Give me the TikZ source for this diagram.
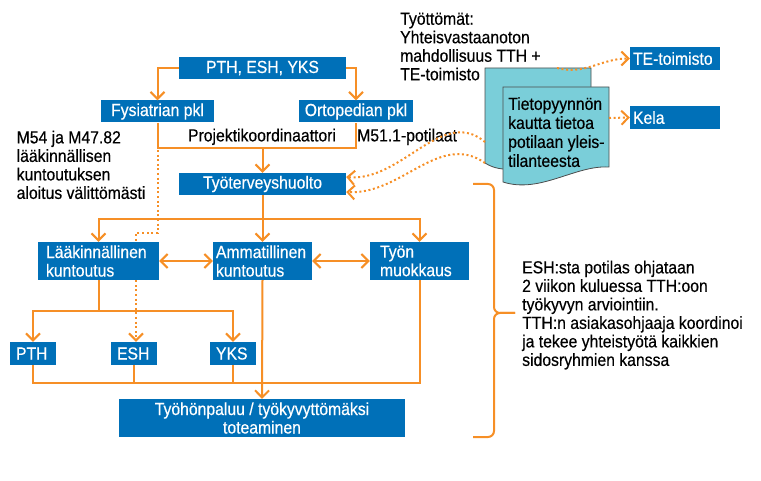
\documentclass[tikz,border=0pt]{standalone}
\usepackage{fontspec}
\setmainfont{Liberation Sans}[FakeStretch=0.9,FakeBold=0.4]
\usetikzlibrary{arrows.meta}
\definecolor{tthblue}{RGB}{0,112,184}
\definecolor{tthorange}{RGB}{246,143,38}
\definecolor{tthcyan}{RGB}{122,206,217}

\begin{document}
\begin{tikzpicture}[x=1pt,y=-1pt,
    font=\fontsize{17.5}{18.5}\selectfont,
    box/.style={fill=tthblue,text=white,inner xsep=6pt,inner ysep=0pt,
      minimum height=22pt,align=center},
    note/.style={anchor=north west,align=left,inner sep=0pt},
    flow/.style={draw=tthorange,line width=2pt},
    dots/.style={flow,dash pattern=on 2pt off 2.6pt},
    tip/.style={-{Straight Barb[length=7pt,width=14pt]}},
    tips/.style={{Straight Barb[length=7pt,width=14pt]}-{Straight Barb[length=7pt,width=14pt]}},
    paper/.style={fill=tthcyan,draw=black!70,line width=0.8pt}]
  \useasboundingbox (0,0) rectangle (761,481);

  % boxes
  \node[box,minimum width=167pt] (src) at (262.5,68) {PTH, ESH, YKS};
  \node[box,minimum width=113pt] (fys) at (157.5,111.5) {Fysiatrian pkl};
  \node[box,minimum width=114pt] (orto) at (356,111.5) {Ortopedian pkl};
  \node[box,minimum width=167pt] (tth) at (262.5,184) {Työterveyshuolto};
  \node[box,minimum width=121pt,minimum height=38pt,inner xsep=8pt,
    text width=105pt,align=left] (laak) at (98.5,261) {Lääkinnällinen\\kuntoutus};
  \node[box,minimum width=99pt,minimum height=38pt,inner xsep=3pt,
    text width=93pt,align=left] (amm) at (262.5,261) {Ammatillinen\\kuntoutus};
  \node[box,minimum width=99pt,minimum height=38pt,inner xsep=10pt,
    text width=79pt,align=left] (tyon) at (419.5,261) {Työn\\muokkaus};
  \node[box,minimum width=46pt,minimum height=23pt,text width=34pt,align=left]
    (pth) at (33,353.5) {PTH};
  \node[box,minimum width=46pt,minimum height=23pt,text width=34pt,align=left]
    (esh) at (134,353.5) {ESH};
  \node[box,minimum width=46pt,minimum height=23pt,text width=34pt,align=left]
    (yks) at (233,353.5) {YKS};
  \node[box,minimum width=286pt,minimum height=38pt] (ret) at (262,418)
    {Työhönpaluu / työkyvyttömäksi\\toteaminen};
  \node[box,minimum width=90pt,minimum height=23pt,inner xsep=3pt,
    text width=84pt,align=left] (te) at (675,58.5) {TE-toimisto};
  \node[box,minimum width=90pt,minimum height=23pt,inner xsep=3pt,
    text width=84pt,align=left] (kela) at (675,117.5) {Kela};

  % texts
  \node[note] (tyott) at (400,12.5)
    {Työttömät:\\Yhteisvastaanoton\\mahdollisuus TTH +\\TE-toimisto};
  \node[note] (m54) at (16.5,130.5)
    {M54 ja M47.82\\lääkinnällisen\\kuntoutuksen\\aloitus välittömästi};
  \node[anchor=north,inner sep=0pt] (pk) at (262,128.5) {Projektikoordinaattori};
  \node[note] (m51) at (357,128.5) {M51.1-potilaat};
  \node[note] (esht) at (522,260.5)
    {ESH:sta potilas ohjataan\\2 viikon kuluessa TTH:oon\\työkyvyn arviointiin.\\%
     TTH:n asiakasohjaaja koordinoi\\ja tekee yhteistyötä kaikkien\\sidosryhmien kanssa};

  % documents
  \draw[paper] (485,68) -- (591,68) -- (591,150)
    .. controls (560,140) and (520,185) .. (485,163) -- cycle;
  \draw[paper] (503,87) -- (609,87) -- (609,167)
    .. controls (575,165) and (540,194) .. (503,182) -- cycle;
  \node[note,font=\fontsize{17.5}{19}\selectfont] (info) at (508,97)
    {Tietopyynnön\\kautta tietoa\\potilaan yleis-\\tilanteesta};
  \coordinate (docTop) at (557,68);
  \coordinate (docRight) at (609,118);
  \coordinate (docLeftA) at (485,142);
  \coordinate (docLeftB) at (485,163);

  % connectors
  \draw[flow,tip] (src.west) -| (fys.north);
  \draw[flow,tip] (src.east) -| (orto.north);
  \draw[flow] (fys.south) -- ++(0,25) -| (orto.south);
  \draw[flow,tip] (tth.north |- 0,147) -- (tth.north);
  \draw[flow,tip] (tth.south) -- (amm.north);
  \draw[flow,tip] (tth.south) ++(0,24) -| (laak.north);
  \draw[flow,tip] (tth.south) ++(0,24) -| (tyon.north);
  \draw[flow,tips] (laak.east) -- (amm.west);
  \draw[flow,tips] (amm.east) -- (tyon.west);
  \draw[flow,tip] (laak.south) -- ++(0,31) -| (pth.north);
  \draw[flow,tip] (laak.south) ++(0,31) -| (yks.north);
  \draw[flow] (pth.south) -- ++(0,18) -| (tyon.south);
  \draw[flow] (esh.south) -- (esh.south |- 0,383);
  \draw[flow] (yks.south) -- (yks.south |- 0,383);
  \draw[flow,tip] (amm.south) -- (ret.north);
  \draw[dots] (fys.south |- 0,150) -- (fys.south |- 0,233)
    -| ([xshift=2pt]esh.north |- laak.north);
  \draw[dots,tip] ([xshift=2pt]esh.north |- laak.south) -- ([xshift=2pt]esh.north);
  \draw[dots,tip] (docTop) to[out=-15,in=180] (te.west);
  \draw[dots,tip] (docRight) -- (kela.west);
  \draw[dots,tip] (docLeftA) to[out=140,in=-5] ([yshift=7pt]tth.east);
  \draw[dots,tip] (docLeftB) to[out=145,in=-3] ([yshift=-8pt]tth.east);

  % brace
  \draw[flow,rounded corners=6pt] (473,184) -| (494,313) -- (515,313);
  \draw[flow,rounded corners=6pt] (515,313) -- (494,313) |- (473,437);
\end{tikzpicture}
\end{document}
